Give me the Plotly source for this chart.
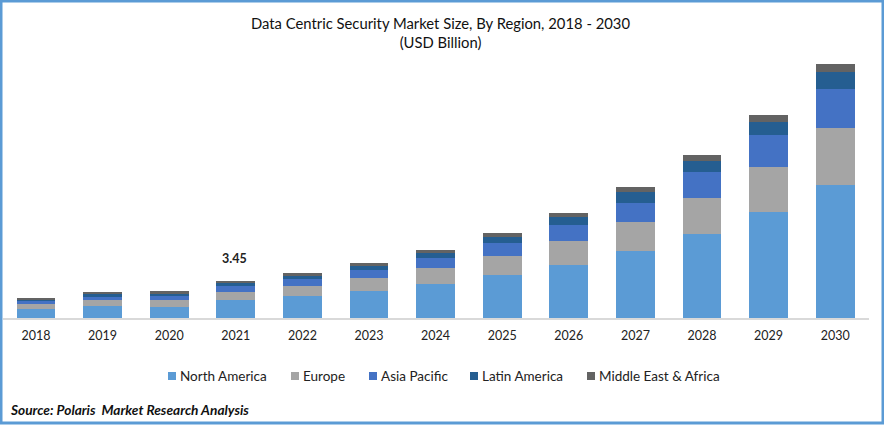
import plotly.graph_objects as go

years = ["2018","2019","2020","2021","2022","2023","2024","2025","2026","2027","2028","2029","2030"]
north_america = [0.86,1.15,1.05,1.73,2.11,2.59,3.26,4.12,5.08,6.42,8.05,10.16,12.75]
europe = [0.48,0.58,0.67,0.77,0.96,1.25,1.53,1.82,2.30,2.78,3.45,4.31,5.47]
asia_pacific = [0.29,0.29,0.48,0.58,0.67,0.77,0.96,1.25,1.53,1.82,2.49,3.07,3.74]
latin_america = [0.19,0.29,0.19,0.29,0.38,0.38,0.48,0.58,0.77,1.05,1.05,1.25,1.63]
mea = [0.10,0.10,0.19,0.10,0.19,0.29,0.29,0.38,0.38,0.48,0.58,0.67,0.77]

W, H = 884, 425
series = [("North America", north_america, "#5B9BD5"),
          ("Europe", europe, "#A5A5A5"),
          ("Asia Pacific", asia_pacific, "#4472C4"),
          ("Latin America", latin_america, "#255E91"),
          ("Middle East & Africa", mea, "#636363")]
legend_x = [168, 291, 369, 470, 587]
FONT = "Lato, Carlito, Calibri, sans-serif"
fig = go.Figure()
for name, vals, col in series:
    fig.add_bar(x=years, y=vals, name=name, marker=dict(color=col, line=dict(width=0)), showlegend=False)

annotations = [
    dict(text="Data Centric Security Market Size, By Region, 2018 - 2030<br>(USD Billion)",
         xref="paper", yref="paper", x=440/W, y=1-33/H, xanchor="center", yanchor="middle",
         showarrow=False, font=dict(size=14.8, color="#111")),
    dict(text="<b>3.45</b>", xref="x", yref="y", x=years.index("2021") - 0.02, y=5.66, showarrow=False,
         font=dict(size=12.5, color="#222")),
    dict(text="<b><i>Source: Polaris  Market Research Analysis</i></b>", xref="paper", yref="paper",
         x=8/W, y=1-409/H, xanchor="left", yanchor="middle", showarrow=False,
         font=dict(size=13.7, color="#111")),
]
border = "#5B9BD5"
shapes = [dict(type="rect", xref="paper", yref="paper", x0=1/W, x1=(W-1)/W, y0=2/H, y1=1-1/H,
               line=dict(color=border, width=3), fillcolor="rgba(0,0,0,0)", layer="above")]
for (name, vals, col), lx in zip(series, legend_x):
    shapes.append(dict(type="rect", xref="paper", yref="paper", x0=lx/W, x1=(lx+8)/W,
                       y0=1-380/H, y1=1-372/H, line=dict(width=0), fillcolor=col))
    annotations.append(dict(text=name, xref="paper", yref="paper", x=(lx+9.5)/W, y=1-375.5/H,
                            xanchor="left", yanchor="middle", showarrow=False,
                            font=dict(size=13.5, color="#222")))

fig.update_layout(
    width=W, height=H, barmode="stack", bargap=0.415,
    margin=dict(l=0, r=0, t=0, b=0), autosize=False,
    paper_bgcolor="white", plot_bgcolor="white",
    font=dict(family=FONT, color="#1a1a1a", size=14),
    xaxis=dict(domain=[2.7/W, 868.5/W], type="category", range=[-0.5, 12.5], showgrid=False, showline=True,
               linecolor="#D9D9D9", linewidth=1.5, ticks="", ticklabelstandoff=5,
               tickfont=dict(size=12.5, color="#222"), automargin=False),
    yaxis=dict(domain=[1-318/H, 1-50/H], range=[0, 25.7], visible=False, automargin=False),
    annotations=annotations,
    shapes=shapes,
)
fig.write_html("out.html", post_script="document.body.style.margin='0';", config={"displayModeBar": False})
